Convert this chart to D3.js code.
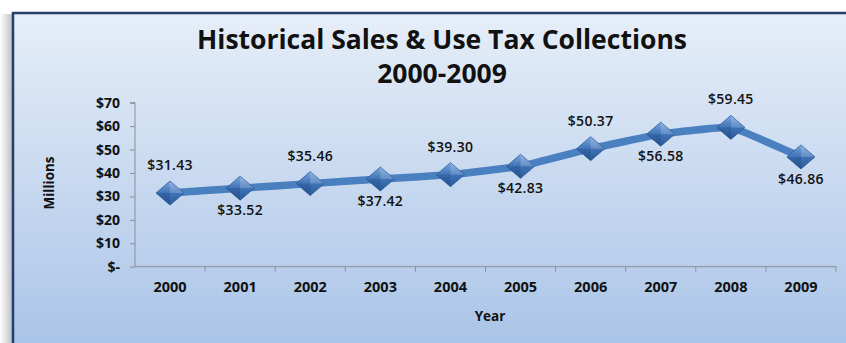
<!DOCTYPE html>
<html>
<head>
<meta charset="utf-8">
<script src="https://cdn.jsdelivr.net/npm/d3@7/dist/d3.min.js"></script>
<style>
  html, body { margin: 0; padding: 0; background: #fff; }
  svg { display: block; }
</style>
</head>
<body>
<svg id="chart" width="846" height="343"></svg>
<script>
// Sales & use tax collections, in millions of dollars
const years = ["2000","2001","2002","2003","2004","2005","2006","2007","2008","2009"];
const collections = [31.43, 33.52, 35.46, 37.42, 39.30, 42.83, 50.37, 56.58, 59.45, 46.86];
const labelSide = ["above","below","above","below","above","below","above","below","above","below"];
const yTicks = [0, 10, 20, 30, 40, 50, 60, 70];

const svg = d3.select("#chart");
const W = 846, H = 343;
const font = "'Open Sans', 'DejaVu Sans', sans-serif";

const defs = svg.append("defs");
const bg = defs.append("linearGradient").attr("id", "bg").attr("x1", 0).attr("y1", 0).attr("x2", 0).attr("y2", 1);
bg.append("stop").attr("offset", "0%").attr("stop-color", "#e6eef8");
bg.append("stop").attr("offset", "100%").attr("stop-color", "#a8c3e7");

const shadow = defs.append("linearGradient").attr("id", "shadow").attr("x1", 0).attr("y1", 0).attr("x2", 1).attr("y2", 0);
shadow.append("stop").attr("offset", "0%").attr("stop-color", "#ffffff");
shadow.append("stop").attr("offset", "100%").attr("stop-color", "#b9bcc2");

const gem = defs.append("linearGradient").attr("id", "gem").attr("x1", 0).attr("y1", 0).attr("x2", 0).attr("y2", 1);
gem.append("stop").attr("offset", "0%").attr("stop-color", "#7aa6dc");
gem.append("stop").attr("offset", "50%").attr("stop-color", "#3f73b6");
gem.append("stop").attr("offset", "100%").attr("stop-color", "#2a5a98");

// frame with soft shadow on the left
svg.append("rect").attr("x", 0).attr("y", 14).attr("width", 13).attr("height", H - 14).attr("fill", "url(#shadow)");
svg.append("rect").attr("x", 13).attr("y", 13).attr("width", W).attr("height", H)
  .attr("fill", "url(#bg)").attr("stroke", "#24406a").attr("stroke-width", 2.5);

// title
const title = svg.append("text").attr("text-anchor", "middle")
  .attr("font-family", font).attr("font-weight", 700).attr("font-size", 26.5).attr("fill", "#111");
title.append("tspan").attr("x", 442).attr("y", 49).text("Historical Sales & Use Tax Collections");
title.append("tspan").attr("x", 442).attr("y", 83).text("2000-2009");

// scales
const x = d3.scaleBand().domain(years).range([135, 836]);
const y = d3.scaleLinear().domain([0, 70]).range([266.7, 102.7]);

// y axis
const yAxis = svg.append("g").attr("transform", "translate(135,0)")
  .call(d3.axisLeft(y).tickValues(yTicks).tickSize(5).tickPadding(10)
    .tickFormat(d => d === 0 ? "$-" : "$" + d));
yAxis.select(".domain").attr("stroke", "#8a8f96").attr("d", "M-5," + y(70) + "H0V" + y(0));
yAxis.selectAll(".tick line").attr("stroke", "#8a8f96");
yAxis.selectAll(".tick text").attr("font-family", font).attr("font-weight", 700)
  .attr("font-size", 14).attr("fill", "#111");

// x axis
const xAxis = svg.append("g").attr("transform", "translate(0," + y(0) + ")")
  .call(d3.axisBottom(x).tickSize(0).tickPadding(15));
xAxis.select(".domain").attr("stroke", "#8a8f96").attr("d", "M135,0H836");
xAxis.selectAll(".tick text").attr("font-family", font).attr("font-weight", 700)
  .attr("font-size", 14.5).attr("fill", "#111");
xAxis.selectAll(".sep").data(years).enter().append("line").attr("class", "sep")
  .attr("x1", d => x(d) + x.bandwidth()).attr("x2", d => x(d) + x.bandwidth())
  .attr("y1", 0).attr("y2", 5).attr("stroke", "#8a8f96");

// axis titles
svg.append("text").attr("transform", "translate(54,183) rotate(-90)").attr("text-anchor", "middle")
  .attr("font-family", font).attr("font-weight", 700).attr("font-size", 13.5).attr("fill", "#111")
  .text("Millions");
svg.append("text").attr("x", 490).attr("y", 321).attr("text-anchor", "middle")
  .attr("font-family", font).attr("font-weight", 700).attr("font-size", 13.5).attr("fill", "#111")
  .text("Year");

// line
const cx = (d, i) => x(years[i]) + x.bandwidth() / 2;
svg.append("path").datum(collections)
  .attr("d", d3.line().x(cx).y(d => y(d)).curve(d3.curveCardinal.tension(0.75)))
  .attr("fill", "none").attr("stroke", "#4a7fc0").attr("stroke-width", 7.5).attr("stroke-linejoin", "round");

// diamond markers
const mk = svg.selectAll(".mk").data(collections).enter().append("g").attr("class", "mk")
  .attr("transform", (d, i) => "translate(" + cx(d, i) + "," + y(d) + ")");
mk.append("path").attr("d", "M0,-12L14,0L0,12L-14,0Z").attr("fill", "url(#gem)")
  .attr("stroke", "#2b5b99").attr("stroke-width", 0.8);
mk.append("path").attr("d", "M0,-12L14,0L0,0Z").attr("fill", "#ffffff").attr("opacity", 0.18);
mk.append("path").attr("d", "M0,12L-14,0L0,0Z").attr("fill", "#0d2c5c").attr("opacity", 0.18);

// value labels
svg.selectAll(".lbl").data(collections).enter().append("text").attr("class", "lbl")
  .attr("x", (d, i) => cx(d, i))
  .attr("y", (d, i) => y(d) + (labelSide[i] === "above" ? -23 : 27))
  .attr("text-anchor", "middle").attr("font-family", font).attr("font-weight", 600)
  .attr("font-size", 14).attr("letter-spacing", 0.3).attr("fill", "#111")
  .text(d => "$" + d.toFixed(2));
</script>
</body>
</html>
